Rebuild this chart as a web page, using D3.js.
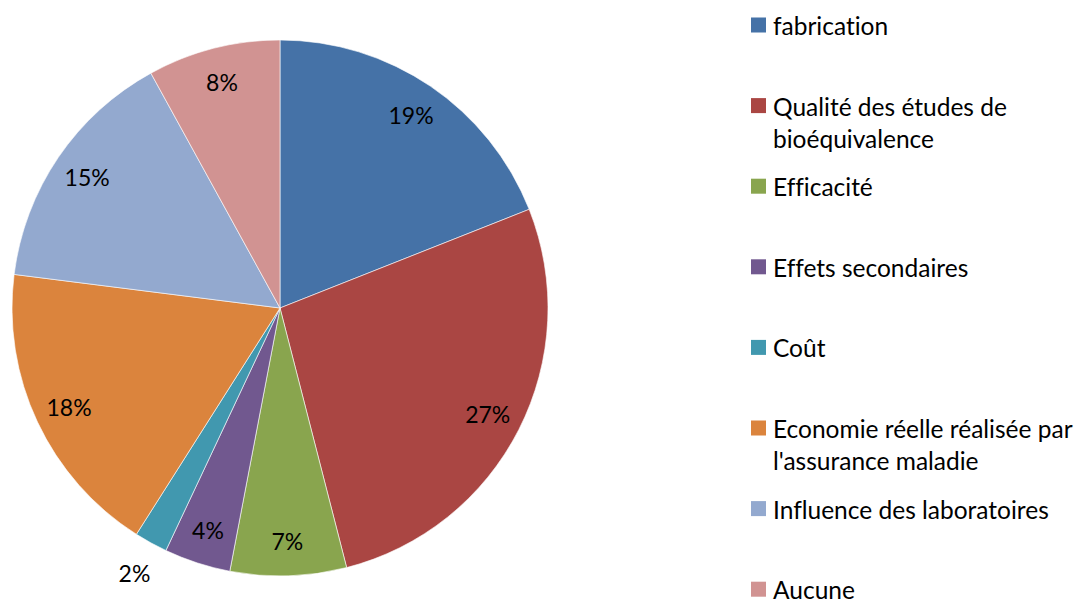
<!DOCTYPE html>
<html>
<head>
<meta charset="utf-8">
<script src="https://cdn.jsdelivr.net/npm/d3@7"></script>
<style>
  html, body { margin: 0; padding: 0; background: #fff; }
  svg { display: block; }
  text { font-family: Lato, "Open Sans", sans-serif; fill: #000; font-variant-ligatures: none; font-feature-settings: "liga" 0, "clig" 0; }
</style>
</head>
<body>
<svg id="chart" width="1083" height="599"></svg>
<script>
// Survey answers: share of respondents per concern
const categories = [
  "fabrication",
  "Qualité des études de bioéquivalence",
  "Efficacité",
  "Effets secondaires",
  "Coût",
  "Economie réelle réalisée par l'assurance maladie",
  "Influence des laboratoires",
  "Aucune"
];
const values = [19, 27, 7, 4, 2, 18, 15, 8];
const colors = ["#4572A7", "#AA4643", "#89A54E", "#71588F", "#4198AF", "#DB843D", "#93A9CF", "#D19392"];

const svg = d3.select("#chart");
const cx = 280, cy = 308, R = 268;
const pctSize = 23, legendSize = 24.5;

const pie = d3.pie().sort(null).value(d => d)(values);
const arc = d3.arc().innerRadius(0).outerRadius(R);
const inLabel = d3.arc().innerRadius(R * 0.87).outerRadius(R * 0.87);
const outLabel = d3.arc().innerRadius(R + 34).outerRadius(R + 34);

const g = svg.append("g").attr("transform", `translate(${cx},${cy})`);

g.selectAll("path.slice")
  .data(pie)
  .join("path")
  .attr("class", "slice")
  .attr("d", arc)
  .attr("fill", (d, i) => colors[i])
  .attr("stroke", "#fff")
  .attr("stroke-width", 0.6);

g.selectAll("text.pct")
  .data(pie)
  .join("text")
  .attr("class", "pct")
  .attr("transform", d => `translate(${(d.data < 3 ? outLabel : inLabel).centroid(d)})`)
  .attr("text-anchor", "middle")
  .attr("dominant-baseline", "central")
  .style("font-size", pctSize + "px")
  .text(d => d.data + "%");

// Legend
const legend = svg.append("g");
const lx = 751, ly0 = 25, lstep = 80.6, box = 15, maxW = 318, lineH = 32;

categories.forEach((name, i) => {
  const y = ly0 + i * lstep;
  legend.append("rect")
    .attr("x", lx).attr("y", y - box / 2)
    .attr("width", box).attr("height", box)
    .attr("fill", colors[i]);
  const t = legend.append("text")
    .attr("x", lx + 22).attr("y", y)
    .attr("dominant-baseline", "central")
    .style("font-size", legendSize + "px");
  // word wrap into the legend column
  const words = name.split(" ");
  let line = [];
  let tspan = t.append("tspan").attr("x", lx + 22).attr("dy", 0);
  words.forEach(w => {
    line.push(w);
    tspan.text(line.join(" "));
    if (tspan.node().getComputedTextLength() > maxW && line.length > 1) {
      line.pop();
      tspan.text(line.join(" "));
      line = [w];
      tspan = t.append("tspan").attr("x", lx + 22).attr("dy", lineH).text(w);
    }
  });
});
</script>
</body>
</html>
